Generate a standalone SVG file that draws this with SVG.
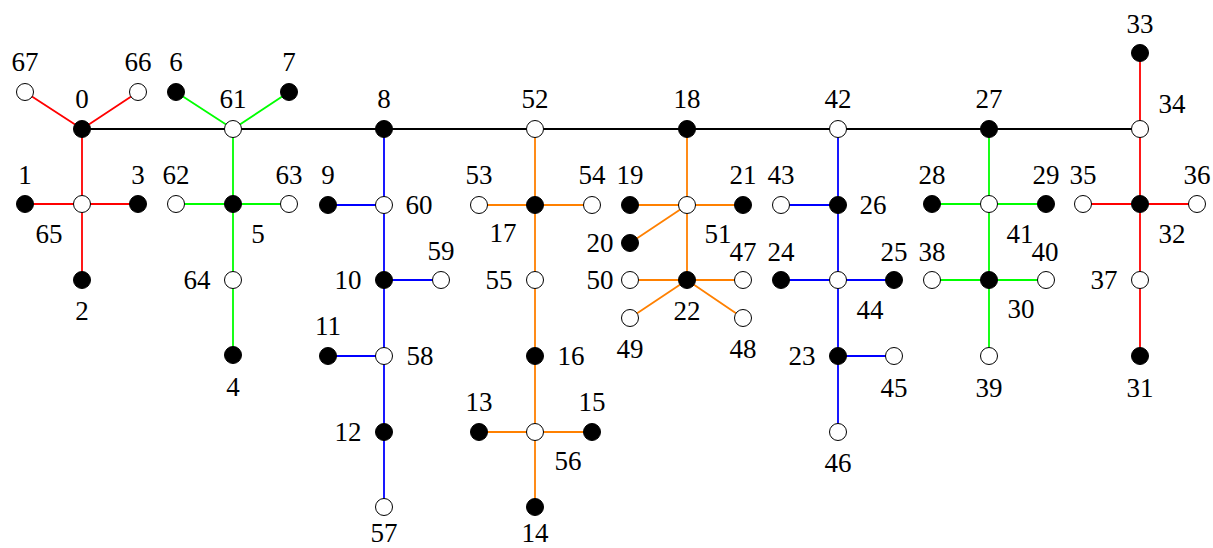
<svg xmlns="http://www.w3.org/2000/svg" width="1213" height="548" viewBox="0 0 1213 548">
<style>
.f{fill:#000;stroke:#000;stroke-width:1}
.e{fill:#fff;stroke:#000;stroke-width:1}
.k{stroke:#000;stroke-width:1.8;fill:none}
.r{stroke:#ff0000;stroke-width:1.8;fill:none}
.g{stroke:#00ff00;stroke-width:1.8;fill:none}
.b{stroke:#0000ff;stroke-width:1.8;fill:none}
.o{stroke:#ff8000;stroke-width:1.8;fill:none}
</style>
<rect width="1213" height="548" fill="#fff"/>
<g id="connectors">
<path class="k" d="M82 129H1140"/>
<path class="r" d="M82 129L25 92M82 129L138 92M82 129V280M25 204H138"/>
<path class="r" d="M1140 53V356M1083 204H1197"/>
<path class="g" d="M233 129L176 92M233 129L289 92M233 129V355M176 204H289"/>
<path class="g" d="M989 129V356M932 204H1046M932 280H1046"/>
<path class="b" d="M384 129V507M328 205H384M384 280H441M328 356H384"/>
<path class="b" d="M838 129V432M781 205H838M781 280H894M838 356H894"/>
<path class="o" d="M535 129V507M479 205H592M479 432H592"/>
<path class="o" d="M687 129V280M630 205H743M687 205L630 243M630 280H743M687 280L630 318M687 280L743 318"/>
</g>
<g id="nodes" font-family="'Liberation Serif', 'Times New Roman', serif" font-size="27" text-anchor="middle" fill="#000">
<g id="n0"><circle class="f" cx="82" cy="129" r="8.5"/><text x="82" y="108">0</text></g>
<g id="n67"><circle class="e" cx="25" cy="92" r="8.5"/><text x="25" y="71">67</text></g>
<g id="n66"><circle class="e" cx="138" cy="92" r="8.5"/><text x="138" y="71">66</text></g>
<g id="n65"><circle class="e" cx="82" cy="204" r="8.5"/><text x="49" y="243">65</text></g>
<g id="n1"><circle class="f" cx="25" cy="204" r="8.5"/><text x="25" y="184">1</text></g>
<g id="n3"><circle class="f" cx="138" cy="204" r="8.5"/><text x="138" y="184">3</text></g>
<g id="n2"><circle class="f" cx="82" cy="280" r="8.5"/><text x="82" y="320">2</text></g>
<g id="n61"><circle class="e" cx="233" cy="129" r="8.5"/><text x="233" y="108">61</text></g>
<g id="n6"><circle class="f" cx="176" cy="92" r="8.5"/><text x="176" y="71">6</text></g>
<g id="n7"><circle class="f" cx="289" cy="92" r="8.5"/><text x="289" y="71">7</text></g>
<g id="n5"><circle class="f" cx="233" cy="204" r="8.5"/><text x="258" y="243">5</text></g>
<g id="n62"><circle class="e" cx="176" cy="204" r="8.5"/><text x="176" y="184">62</text></g>
<g id="n63"><circle class="e" cx="289" cy="204" r="8.5"/><text x="289" y="184">63</text></g>
<g id="n64"><circle class="e" cx="233" cy="280" r="8.5"/><text x="197" y="289">64</text></g>
<g id="n4"><circle class="f" cx="233" cy="355" r="8.5"/><text x="233" y="396">4</text></g>
<g id="n8"><circle class="f" cx="384" cy="129" r="8.5"/><text x="384" y="108">8</text></g>
<g id="n60"><circle class="e" cx="384" cy="205" r="8.5"/><text x="419" y="214">60</text></g>
<g id="n9"><circle class="f" cx="328" cy="205" r="8.5"/><text x="328" y="184">9</text></g>
<g id="n10"><circle class="f" cx="384" cy="280" r="8.5"/><text x="348" y="289">10</text></g>
<g id="n59"><circle class="e" cx="441" cy="280" r="8.5"/><text x="441" y="260">59</text></g>
<g id="n58"><circle class="e" cx="384" cy="356" r="8.5"/><text x="420" y="365">58</text></g>
<g id="n11"><circle class="f" cx="328" cy="356" r="8.5"/><text x="328" y="335">11</text></g>
<g id="n12"><circle class="f" cx="384" cy="432" r="8.5"/><text x="348" y="441">12</text></g>
<g id="n57"><circle class="e" cx="384" cy="507" r="8.5"/><text x="384" y="542">57</text></g>
<g id="n52"><circle class="e" cx="535" cy="129" r="8.5"/><text x="535" y="108">52</text></g>
<g id="n17"><circle class="f" cx="535" cy="205" r="8.5"/><text x="503" y="242">17</text></g>
<g id="n53"><circle class="e" cx="479" cy="205" r="8.5"/><text x="479" y="184">53</text></g>
<g id="n54"><circle class="e" cx="592" cy="205" r="8.5"/><text x="592" y="184">54</text></g>
<g id="n55"><circle class="e" cx="535" cy="280" r="8.5"/><text x="499" y="289">55</text></g>
<g id="n16"><circle class="f" cx="535" cy="356" r="8.5"/><text x="571" y="365">16</text></g>
<g id="n56"><circle class="e" cx="535" cy="432" r="8.5"/><text x="568" y="470">56</text></g>
<g id="n13"><circle class="f" cx="479" cy="432" r="8.5"/><text x="479" y="411">13</text></g>
<g id="n15"><circle class="f" cx="592" cy="432" r="8.5"/><text x="592" y="411">15</text></g>
<g id="n14"><circle class="f" cx="535" cy="507" r="8.5"/><text x="535" y="542">14</text></g>
<g id="n18"><circle class="f" cx="687" cy="129" r="8.5"/><text x="687" y="108">18</text></g>
<g id="n51"><circle class="e" cx="687" cy="205" r="8.5"/><text x="718" y="243">51</text></g>
<g id="n19"><circle class="f" cx="630" cy="205" r="8.5"/><text x="630" y="184">19</text></g>
<g id="n21"><circle class="f" cx="743" cy="205" r="8.5"/><text x="743" y="184">21</text></g>
<g id="n20"><circle class="f" cx="630" cy="243" r="8.5"/><text x="600" y="252">20</text></g>
<g id="n22"><circle class="f" cx="687" cy="280" r="8.5"/><text x="687" y="320">22</text></g>
<g id="n50"><circle class="e" cx="630" cy="280" r="8.5"/><text x="600" y="289">50</text></g>
<g id="n47"><circle class="e" cx="743" cy="280" r="8.5"/><text x="743" y="261">47</text></g>
<g id="n49"><circle class="e" cx="630" cy="318" r="8.5"/><text x="630" y="358">49</text></g>
<g id="n48"><circle class="e" cx="743" cy="318" r="8.5"/><text x="743" y="358">48</text></g>
<g id="n42"><circle class="e" cx="838" cy="129" r="8.5"/><text x="838" y="108">42</text></g>
<g id="n26"><circle class="f" cx="838" cy="205" r="8.5"/><text x="873" y="214">26</text></g>
<g id="n43"><circle class="e" cx="781" cy="205" r="8.5"/><text x="781" y="184">43</text></g>
<g id="n44"><circle class="e" cx="838" cy="280" r="8.5"/><text x="870" y="319">44</text></g>
<g id="n24"><circle class="f" cx="781" cy="280" r="8.5"/><text x="781" y="261">24</text></g>
<g id="n25"><circle class="f" cx="894" cy="280" r="8.5"/><text x="894" y="261">25</text></g>
<g id="n23"><circle class="f" cx="838" cy="356" r="8.5"/><text x="802" y="365">23</text></g>
<g id="n45"><circle class="e" cx="894" cy="356" r="8.5"/><text x="894" y="397">45</text></g>
<g id="n46"><circle class="e" cx="838" cy="432" r="8.5"/><text x="838" y="472">46</text></g>
<g id="n27"><circle class="f" cx="989" cy="129" r="8.5"/><text x="989" y="108">27</text></g>
<g id="n41"><circle class="e" cx="989" cy="204" r="8.5"/><text x="1020" y="243">41</text></g>
<g id="n28"><circle class="f" cx="932" cy="204" r="8.5"/><text x="932" y="184">28</text></g>
<g id="n29"><circle class="f" cx="1046" cy="204" r="8.5"/><text x="1046" y="184">29</text></g>
<g id="n30"><circle class="f" cx="989" cy="280" r="8.5"/><text x="1021" y="318">30</text></g>
<g id="n38"><circle class="e" cx="932" cy="280" r="8.5"/><text x="932" y="261">38</text></g>
<g id="n40"><circle class="e" cx="1046" cy="280" r="8.5"/><text x="1045" y="261">40</text></g>
<g id="n39"><circle class="e" cx="989" cy="356" r="8.5"/><text x="989" y="397">39</text></g>
<g id="n34"><circle class="e" cx="1140" cy="129" r="8.5"/><text x="1172" y="113">34</text></g>
<g id="n33"><circle class="f" cx="1140" cy="53" r="8.5"/><text x="1140" y="33">33</text></g>
<g id="n32"><circle class="f" cx="1140" cy="204" r="8.5"/><text x="1172" y="243">32</text></g>
<g id="n35"><circle class="e" cx="1083" cy="204" r="8.5"/><text x="1083" y="184">35</text></g>
<g id="n36"><circle class="e" cx="1197" cy="204" r="8.5"/><text x="1197" y="184">36</text></g>
<g id="n37"><circle class="e" cx="1140" cy="280" r="8.5"/><text x="1104" y="289">37</text></g>
<g id="n31"><circle class="f" cx="1140" cy="356" r="8.5"/><text x="1140" y="397">31</text></g>
</g>
</svg>
